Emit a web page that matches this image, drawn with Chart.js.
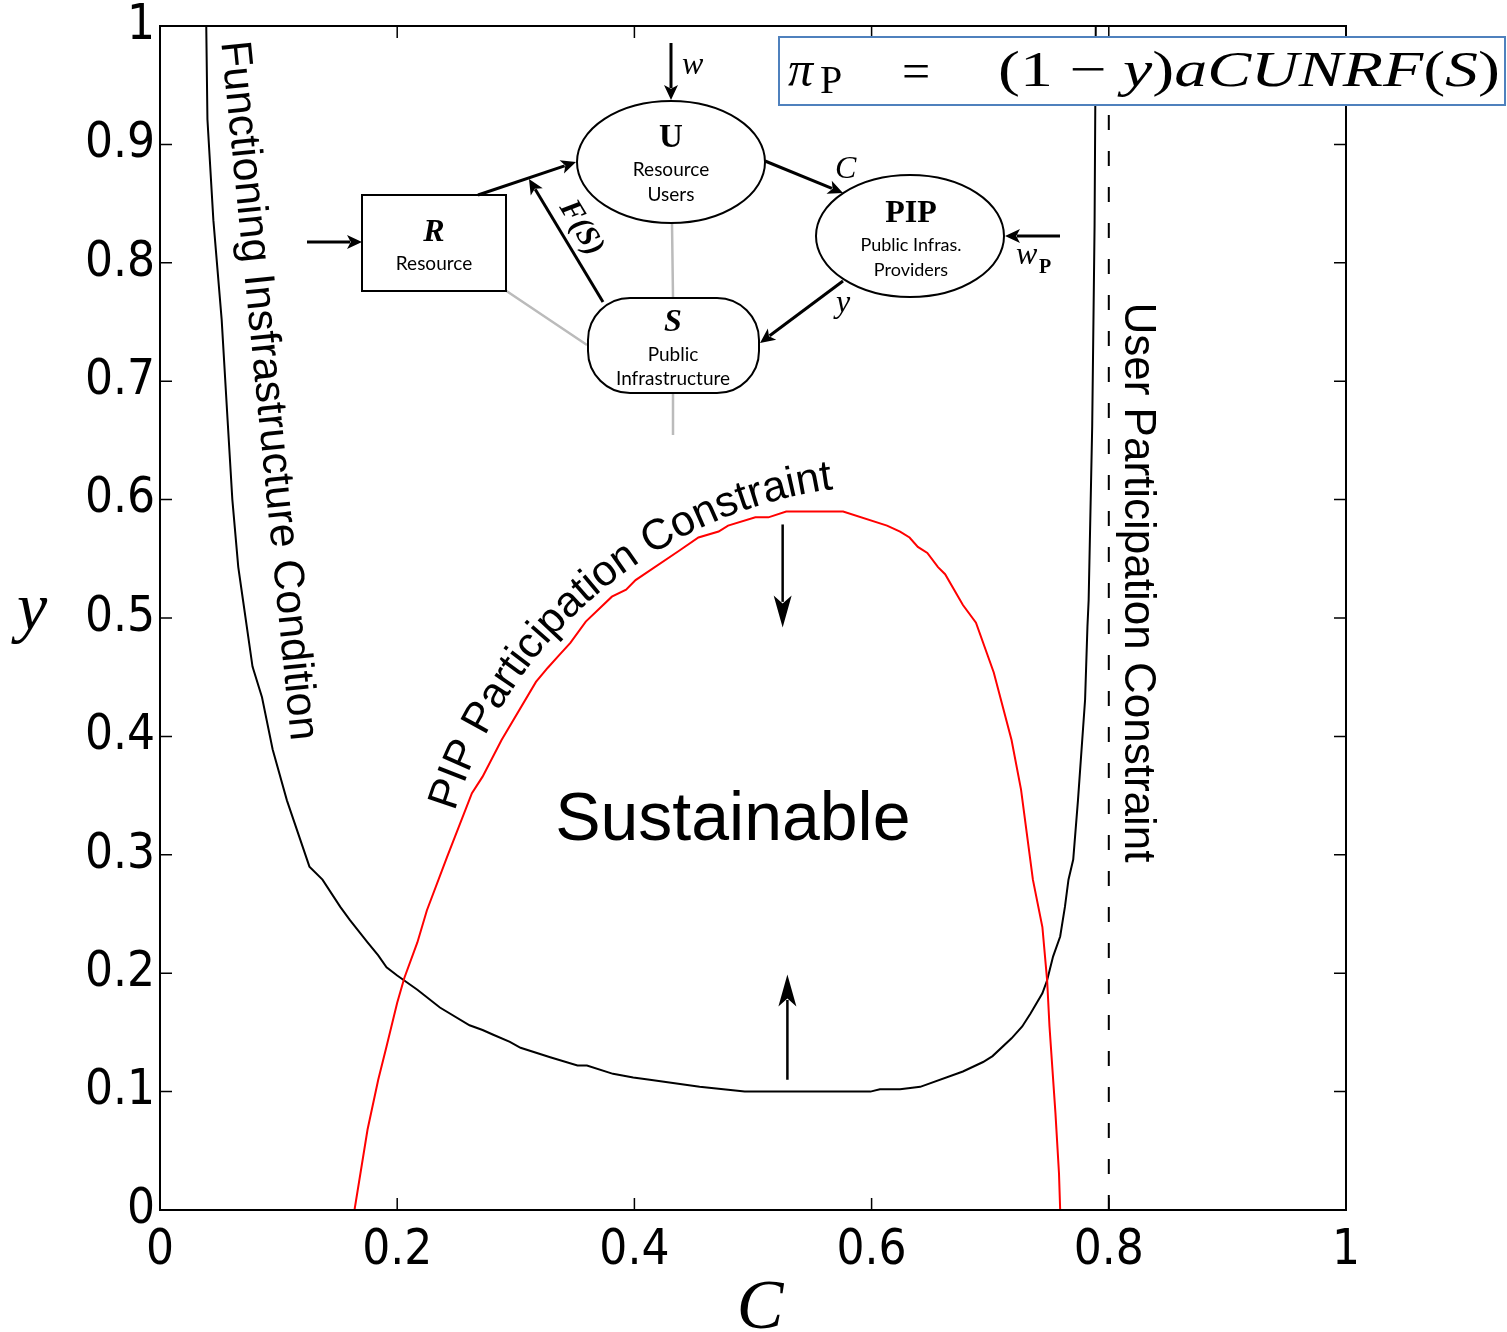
<!DOCTYPE html>
<html>
<head>
<meta charset="utf-8">
<script src="https://cdn.jsdelivr.net/npm/chart.js@4.4.1/dist/chart.umd.min.js"></script>
<style>
  body { margin: 0; background: #fff; }
  #wrap { width: 1507px; height: 1332px; }
</style>
</head>
<body>
<div id="wrap"><canvas id="grafica" width="1507" height="1332"></canvas></div>
<script>
// axes
const xTicks = [0, 0.2, 0.4, 0.6, 0.8, 1];
const xTickLabels = ['0', '0.2', '0.4', '0.6', '0.8', '1'];
const yTicks = [0, 0.1, 0.2, 0.3, 0.4, 0.5, 0.6, 0.7, 0.8, 0.9, 1];
const yTickLabels = ['0', '0.1', '0.2', '0.3', '0.4', '0.5', '0.6', '0.7', '0.8', '0.9', '1'];

// functioning infrastructure condition (black)
const infraC = [0.039, 0.040, 0.045, 0.052, 0.057, 0.061, 0.066, 0.070, 0.078, 0.086, 0.095, 0.107, 0.126, 0.137, 0.152, 0.160, 0.175, 0.184, 0.191, 0.200, 0.217, 0.236, 0.261, 0.272, 0.281, 0.295, 0.304, 0.329, 0.352, 0.360, 0.382, 0.399, 0.413, 0.455, 0.493, 0.599, 0.607, 0.624, 0.641, 0.677, 0.694, 0.702, 0.718, 0.727, 0.734, 0.744, 0.748, 0.753, 0.759, 0.763, 0.766, 0.770, 0.774, 0.780, 0.782, 0.783, 0.786, 0.788, 0.789];
const infraY = [1.0, 0.921, 0.836, 0.752, 0.667, 0.600, 0.543, 0.515, 0.459, 0.433, 0.389, 0.346, 0.290, 0.279, 0.256, 0.245, 0.226, 0.215, 0.205, 0.198, 0.186, 0.171, 0.156, 0.152, 0.148, 0.142, 0.137, 0.129, 0.122, 0.122, 0.115, 0.112, 0.110, 0.104, 0.100, 0.100, 0.102, 0.102, 0.104, 0.117, 0.125, 0.130, 0.145, 0.155, 0.166, 0.183, 0.194, 0.214, 0.231, 0.256, 0.279, 0.296, 0.346, 0.431, 0.493, 0.515, 0.662, 0.831, 1.0];

// PIP participation constraint (red)
const pipC = [0.164, 0.175, 0.184, 0.191, 0.200, 0.206, 0.217, 0.225, 0.242, 0.263, 0.272, 0.288, 0.317, 0.327, 0.336, 0.346, 0.359, 0.381, 0.393, 0.401, 0.438, 0.454, 0.471, 0.479, 0.502, 0.513, 0.528, 0.576, 0.613, 0.624, 0.632, 0.639, 0.647, 0.656, 0.662, 0.677, 0.688, 0.703, 0.718, 0.726, 0.736, 0.744, 0.748, 0.750, 0.755, 0.758, 0.759];
const pipY = [0.000, 0.068, 0.110, 0.138, 0.175, 0.196, 0.226, 0.253, 0.298, 0.352, 0.366, 0.397, 0.446, 0.458, 0.468, 0.479, 0.497, 0.518, 0.524, 0.532, 0.557, 0.568, 0.573, 0.578, 0.585, 0.585, 0.590, 0.590, 0.578, 0.573, 0.568, 0.560, 0.555, 0.543, 0.537, 0.511, 0.496, 0.454, 0.397, 0.355, 0.279, 0.239, 0.194, 0.155, 0.082, 0.031, 0.000];

// user participation constraint (dashed)
const userC = [0.8, 0.8];
const userY = [0, 1];

const zip = (xs, ys) => xs.map((x, i) => ({ x: x, y: ys[i] }));

function flecha(ctx, x1, y1, x2, y2, largo, ancho, grosor) {
  const ang = Math.atan2(y2 - y1, x2 - x1);
  ctx.lineWidth = grosor;
  ctx.beginPath();
  ctx.moveTo(x1, y1);
  ctx.lineTo(x2 - Math.cos(ang) * largo * 0.8, y2 - Math.sin(ang) * largo * 0.8);
  ctx.stroke();
  ctx.save();
  ctx.translate(x2, y2);
  ctx.rotate(ang);
  ctx.beginPath();
  ctx.moveTo(0, 0);
  ctx.lineTo(-largo, -ancho);
  ctx.lineTo(-largo * 0.75, 0);
  ctx.lineTo(-largo, ancho);
  ctx.closePath();
  ctx.fill();
  ctx.restore();
}

function texto(ctx, t, x, y, font, rot) {
  ctx.save();
  ctx.translate(x, y);
  if (rot) ctx.rotate(rot);
  ctx.font = font;
  ctx.fillText(t, 0, 0);
  ctx.restore();
}

const sans = '"Liberation Sans", Arial, sans-serif';
const serif = '"Liberation Serif", "DejaVu Serif", serif';
const small = 'Lato, "Open Sans", sans-serif';
const tickFont = { family: '"DejaVu Sans Condensed", "DejaVu Sans"', size: 49 };

const anotaciones = {
  id: 'anotaciones',
  afterDatasetsDraw(chart) {
    const ctx = chart.ctx, a = chart.chartArea;
    const sx = chart.scales.x, sy = chart.scales.y;
    const P = (c, v) => [sx.getPixelForValue(c), sy.getPixelForValue(v)];
    ctx.save();
    ctx.strokeStyle = '#000';
    ctx.fillStyle = '#000';

    // frame + inward ticks
    ctx.lineWidth = 2;
    ctx.strokeRect(a.left, a.top, a.right - a.left, a.bottom - a.top);
    ctx.lineWidth = 1.5;
    ctx.beginPath();
    xTicks.forEach(v => {
      const x = sx.getPixelForValue(v);
      ctx.moveTo(x, a.bottom); ctx.lineTo(x, a.bottom - 12);
      ctx.moveTo(x, a.top); ctx.lineTo(x, a.top + 12);
    });
    yTicks.forEach(v => {
      const y = sy.getPixelForValue(v);
      ctx.moveTo(a.left, y); ctx.lineTo(a.left + 12, y);
      ctx.moveTo(a.right, y); ctx.lineTo(a.right - 12, y);
    });
    ctx.stroke();

    // axis titles
    ctx.textAlign = 'center';
    ctx.textBaseline = 'alphabetic';
    texto(ctx, 'y', 32, 630, 'italic 68px ' + serif);
    texto(ctx, 'C', 760, 1328, 'italic 70px ' + serif);

    // region labels
    ctx.textBaseline = 'middle';
    let p = P(0.483, 0.328);
    texto(ctx, 'Sustainable', p[0], p[1], '68px ' + sans);
    p = P(0.091, 0.692);
    texto(ctx, 'Functioning Insfrastructure Condition', p[0], p[1], '43px ' + sans, 84.3 * Math.PI / 180);
    p = P(0.824, 0.530);
    texto(ctx, 'User Participation Constraint', p[0], p[1], '44px ' + sans, Math.PI / 2);

    // curved label along the red curve
    ctx.font = '43px ' + sans;
    ctx.textBaseline = 'alphabetic';
    const lbl = 'PIP Participation Constraint';
    const o = P(0.6197, 0.2238), R = 460;
    const total = ctx.measureText(lbl).width;
    let th = 229.6 * Math.PI / 180 - total / (2 * R);
    for (const ch of lbl) {
      const w = ctx.measureText(ch).width;
      const tc = th + w / (2 * R);
      ctx.save();
      ctx.translate(o[0] + R * Math.cos(tc), o[1] + R * Math.sin(tc));
      ctx.rotate(tc + Math.PI / 2);
      ctx.fillText(ch, 0, 0);
      ctx.restore();
      th += w / R;
    }

    // direction arrows
    let p1 = P(0.525, 0.579), p2 = P(0.525, 0.492);
    flecha(ctx, p1[0], p1[1], p2[0], p2[1], 32, 9, 2.5);
    p1 = P(0.529, 0.110); p2 = P(0.529, 0.199);
    flecha(ctx, p1[0], p1[1], p2[0], p2[1], 32, 9, 2.5);

    // ---- inset diagram ----
    ctx.strokeStyle = '#bbb';
    ctx.lineWidth = 2.5;
    ctx.beginPath();
    ctx.moveTo(672, 223); ctx.lineTo(673, 297);
    ctx.moveTo(505, 290); ctx.lineTo(587, 345);
    ctx.moveTo(673, 393); ctx.lineTo(673, 435);
    ctx.stroke();

    ctx.strokeStyle = '#000';
    ctx.fillStyle = '#fff';
    ctx.lineWidth = 2;
    ctx.fillRect(362, 195, 144, 96);
    ctx.strokeRect(362, 195, 144, 96);
    ctx.beginPath(); ctx.ellipse(671, 162, 94, 61, 0, 0, 2 * Math.PI); ctx.fill(); ctx.stroke();
    ctx.beginPath(); ctx.ellipse(910, 236, 94, 61, 0, 0, 2 * Math.PI); ctx.fill(); ctx.stroke();
    ctx.beginPath(); ctx.roundRect(588, 298, 171, 95, 42); ctx.fill(); ctx.stroke();

    ctx.fillStyle = '#000';
    flecha(ctx, 307, 242, 362, 242, 15, 7, 3);
    flecha(ctx, 478, 195, 576, 162, 15, 7, 3);
    flecha(ctx, 603, 302, 529, 179, 15, 7, 3);
    flecha(ctx, 671, 43, 671, 100, 15, 7, 3);
    flecha(ctx, 765, 161, 843, 193, 15, 7, 3);
    flecha(ctx, 1060, 236, 1005, 236, 15, 7, 3);
    flecha(ctx, 843, 281, 760, 343, 15, 7, 3);

    ctx.textAlign = 'center';
    ctx.textBaseline = 'middle';
    texto(ctx, 'R', 434, 233, 'bold italic 32px ' + serif);
    texto(ctx, 'Resource', 434, 264, '19px ' + small);
    texto(ctx, 'U', 671, 138, 'bold 33px ' + serif);
    texto(ctx, 'Resource', 671, 170, '19px ' + small);
    texto(ctx, 'Users', 671, 195, '19px ' + small);
    texto(ctx, 'S', 673, 323, 'bold italic 32px ' + serif);
    texto(ctx, 'Public', 673, 355, '19px ' + small);
    texto(ctx, 'Infrastructure', 673, 379, '19px ' + small);
    texto(ctx, 'PIP', 911, 214, 'bold 32px ' + serif);
    texto(ctx, 'Public Infras.', 911, 245, '18px ' + small);
    texto(ctx, 'Providers', 911, 270, '18px ' + small);
    texto(ctx, 'F(S)', 581, 228, 'italic bold 31px ' + serif, 59 * Math.PI / 180);
    ctx.textAlign = 'left';
    ctx.textBaseline = 'alphabetic';
    texto(ctx, 'w', 682, 74, 'italic 32px ' + serif);
    texto(ctx, 'C', 835, 178, 'italic 32px ' + serif);
    texto(ctx, 'y', 836, 312, 'italic 32px ' + serif);
    texto(ctx, 'w', 1016, 264, 'italic 32px ' + serif);
    texto(ctx, 'P', 1039, 273, 'bold 20px ' + serif);

    // equation box
    ctx.fillStyle = '#fff';
    ctx.fillRect(778, 36, 728, 69);
    ctx.strokeStyle = '#4f81bd';
    ctx.lineWidth = 2;
    ctx.strokeRect(779, 37, 726, 68);
    ctx.fillStyle = '#000';
    texto(ctx, '\u03c0', 788, 86, 'italic 50px ' + serif);
    texto(ctx, 'P', 820, 93, '40px ' + serif);
    texto(ctx, '=', 902, 88, '50px ' + serif);
    const piezas = [['(', ''], ['1', ''], [' \u2212 ', ''], ['y', 'italic '], [')', ''], ['aCUNRF', 'italic '], ['(', ''], ['S', 'italic '], [')', '']];
    let ancho = 0;
    piezas.forEach(pz => { ctx.font = pz[1] + '50px ' + serif; ancho += ctx.measureText(pz[0]).width; });
    ctx.save();
    ctx.translate(998, 86);
    ctx.scale(502 / ancho, 1);
    let cx = 0;
    piezas.forEach(pz => {
      ctx.font = pz[1] + '50px ' + serif;
      ctx.fillText(pz[0], cx, 0);
      cx += ctx.measureText(pz[0]).width;
    });
    ctx.restore();

    ctx.restore();
  }
};

new Chart(document.getElementById('grafica').getContext('2d'), {
  type: 'line',
  data: {
    datasets: [
      { label: 'PIP Participation Constraint', data: zip(pipC, pipY), borderColor: '#ff0000', borderWidth: 2, pointRadius: 0, tension: 0 },
      { label: 'Functioning Infrastructure Condition', data: zip(infraC, infraY), borderColor: '#000', borderWidth: 2, pointRadius: 0, tension: 0 },
      { label: 'User Participation Constraint', data: zip(userC, userY), borderColor: '#000', borderWidth: 2, borderDash: [15, 21], pointRadius: 0 }
    ]
  },
  options: {
    responsive: false,
    devicePixelRatio: 1,
    animation: false,
    layout: { padding: { top: 26, right: 161, left: 0, bottom: 0 } },
    plugins: { legend: { display: false }, tooltip: { enabled: false } },
    scales: {
      x: {
        type: 'linear', min: 0, max: 1,
        grid: { display: false, drawTicks: false },
        border: { display: false },
        afterBuildTicks: s => { s.ticks = xTicks.map(v => ({ value: v })); },
        afterFit: s => { s.height = 122; s.paddingLeft = 0; s.paddingRight = 0; },
        ticks: {
          autoSkip: false, maxRotation: 0, padding: 12, color: '#000',
          font: tickFont,
          callback: (v, i) => xTickLabels[i]
        }
      },
      y: {
        type: 'linear', min: 0, max: 1,
        grid: { display: false, drawTicks: false },
        border: { display: false },
        afterBuildTicks: s => { s.ticks = yTicks.map(v => ({ value: v })); },
        afterFit: s => { s.width = 160; s.paddingTop = 0; s.paddingBottom = 0; },
        ticks: {
          autoSkip: false, padding: 5, color: '#000',
          font: tickFont,
          callback: (v, i) => yTickLabels[i]
        }
      }
    }
  },
  plugins: [anotaciones]
});
</script>
</body>
</html>
